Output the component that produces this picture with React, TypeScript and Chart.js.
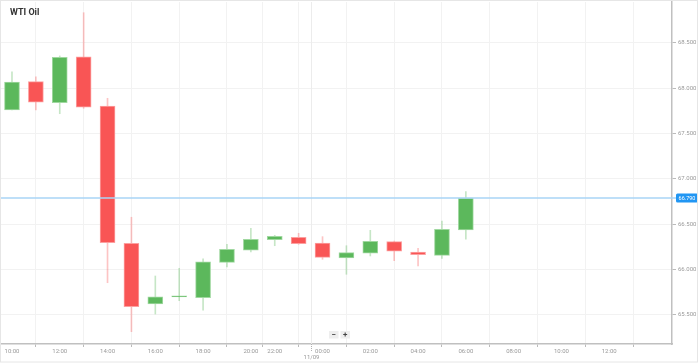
import { useEffect, useRef } from "react";
import { Chart, registerables } from "chart.js";

Chart.register(...registerables);

// ---- data ----
const candleSlots = [0, 1, 2, 3, 4, 5, 6, 7, 8, 9, 10, 11, 12, 13, 14, 15, 16, 17, 18, 19];
const candleTimes = ["10:00", "11:00", "12:00", "13:00", "14:00", "15:00", "16:00", "17:00", "18:00", "19:00", "20:00", "22:00", "23:00", "00:00", "01:00", "02:00", "03:00", "04:00", "05:00", "06:00"];
const opens = [67.761, 68.073, 67.842, 68.346, 67.805, 66.291, 65.621, 65.699, 65.691, 66.081, 66.214, 66.331, 66.357, 66.294, 66.129, 66.181, 66.309, 66.195, 66.158, 66.438];
const highs = [68.183, 68.128, 68.357, 68.834, 67.890, 66.578, 65.930, 66.015, 66.118, 66.280, 66.456, 66.379, 66.401, 66.364, 66.264, 66.434, 66.315, 66.236, 66.537, 66.860];
const lows = [67.761, 67.761, 67.720, 67.780, 65.856, 65.316, 65.511, 65.658, 65.552, 66.029, 66.195, 66.264, 66.280, 66.114, 65.949, 66.151, 66.099, 66.040, 66.125, 66.335];
const closes = [68.070, 67.846, 68.342, 67.791, 66.297, 65.592, 65.699, 65.710, 66.085, 66.225, 66.335, 66.368, 66.286, 66.136, 66.187, 66.313, 66.203, 66.165, 66.445, 66.790];

const tickSlots = [0, 2, 4, 6, 8, 10, 11, 13, 15, 17, 19, 21, 23, 25];
const tickLabels = ["10:00", "12:00", "14:00", "16:00", "18:00", "20:00", "22:00", "00:00", "02:00", "04:00", "06:00", "08:00", "10:00", "12:00"];
const yTickValues = [65.5, 66.0, 66.5, 67.0, 67.5, 68.0, 68.5];
const lastPrice = 66.79;
const lastPriceLabel = "66.790";
const dateSlot = 12.5;
const dateLabel = "11/09";
const title = "WTI Oil";

const GREEN = "rgb(92,184,92)";
const GREEN_EDGE = "rgb(160,216,160)";
const GREEN_WICK = "rgba(92,184,92,0.35)";
const RED = "rgb(249,85,85)";
const RED_EDGE = "rgb(252,160,160)";
const RED_WICK = "rgba(249,85,85,0.35)";

const overlay = {
  id: "overlay",
  beforeDatasetsDraw(chart: any) {
    const { ctx, chartArea, scales } = chart;
    const x = Math.round(scales.x.getPixelForValue(dateSlot)) + 0.5;
    ctx.save();
    ctx.strokeStyle = "#ececec";
    ctx.lineWidth = 1;
    ctx.beginPath();
    ctx.moveTo(x, chartArea.top);
    ctx.lineTo(x, chartArea.bottom);
    ctx.stroke();
    ctx.restore();
  },
  afterDatasetsDraw(chart: any) {
    const { ctx, chartArea, scales } = chart;
    const y = scales.y.getPixelForValue(lastPrice);
    ctx.save();
    // price line
    ctx.strokeStyle = "rgb(168,212,246)";
    ctx.lineWidth = 1.5;
    ctx.beginPath();
    ctx.moveTo(chartArea.left, y);
    ctx.lineTo(chartArea.right + 4, y);
    ctx.stroke();
    // price label
    ctx.fillStyle = "rgb(33,150,243)";
    const bx = chartArea.right + 4, bw = 22, bh = 9;
    ctx.beginPath();
    (ctx as any).roundRect ? (ctx as any).roundRect(bx, y - bh / 2, bw, bh, 1.5) : ctx.rect(bx, y - bh / 2, bw, bh);
    ctx.fill();
    ctx.fillStyle = "#ffffff";
    ctx.font = "5.5px Roboto";
    ctx.textAlign = "center";
    ctx.textBaseline = "middle";
    ctx.fillText(lastPriceLabel, bx + bw / 2, y + 0.5);

    // date separator below axis
    const dx = Math.round(scales.x.getPixelForValue(dateSlot)) + 0.5;
    ctx.strokeStyle = "#b0b0b0";
    ctx.lineWidth = 1;
    ctx.setLineDash([1, 1]);
    ctx.beginPath();
    ctx.moveTo(dx, chartArea.bottom);
    ctx.lineTo(dx, chartArea.bottom + 8);
    ctx.stroke();
    ctx.setLineDash([]);
    ctx.fillStyle = "#999";
    ctx.font = "6px Roboto";
    ctx.textAlign = "center";
    ctx.textBaseline = "middle";
    ctx.fillText(dateLabel, dx, chartArea.bottom + 13);

    // title
    ctx.fillStyle = "#333";
    ctx.font = "bold 9px Roboto";
    ctx.textAlign = "left";
    ctx.textBaseline = "middle";
    ctx.fillText(title, 10, 12.5);

    // zoom buttons
    const btns = ["\u2212", "+"];
    btns.forEach((b, i) => {
      const x0 = 329 + i * 11.5;
      ctx.fillStyle = "#eeeeee";
      ctx.fillRect(x0, 331, 9.5, 7.5);
      ctx.fillStyle = "#444";
      ctx.font = "bold 8px Roboto";
      ctx.textAlign = "center";
      ctx.fillText(b, x0 + 4.75, 334.8);
    });

    // outer border
    ctx.strokeStyle = "#e6e6e6";
    ctx.lineWidth = 1;
    ctx.strokeRect(0.5, 0.5, chart.width - 1, chart.height - 1.5);
    ctx.restore();
  },
};

export default function App() {
  const ref = useRef<HTMLCanvasElement | null>(null);

  useEffect(() => {
    if (!ref.current) return;
    Chart.defaults.font.family = "Roboto";
    const bodyColors = opens.map((o, i) => (closes[i] >= o ? GREEN : RED));
    const edgeColors = opens.map((o, i) => (closes[i] >= o ? GREEN_EDGE : RED_EDGE));
    const wickColors = opens.map((o, i) => (closes[i] >= o ? GREEN_WICK : RED_WICK));

    const chart = new Chart(ref.current, {
      type: "bar",
      data: {
        labels: candleTimes,
        datasets: [
          {
            label: "body",
            data: candleSlots.map((s, i) => ({ x: s, y: [opens[i], closes[i]] })) as any,
            backgroundColor: bodyColors,
            borderColor: edgeColors,
            borderWidth: 1,
            borderSkipped: false,
            barThickness: 15,
            grouped: false,
            order: 0,
          } as any,
          {
            label: "wick",
            data: candleSlots.map((s, i) => ({ x: s, y: [lows[i], highs[i]] })) as any,
            backgroundColor: wickColors,
            borderWidth: 0,
            barThickness: 1,
            grouped: false,
            order: 1,
          } as any,
        ],
      },
      options: {
        animation: false,
        responsive: false,
        maintainAspectRatio: false,
        layout: { padding: { top: 2, left: 1, right: 0, bottom: 0 } },
        plugins: {
          legend: { display: false },
          tooltip: { enabled: false },
          title: { display: false },
        },
        scales: {
          x: {
            type: "linear",
            position: "bottom",
            min: -0.46,
            max: 27.63,
            offset: false,
            afterBuildTicks: (scale: any) => {
              scale.ticks = tickSlots.map((v) => ({ value: v }));
            },
            afterFit: (scale: any) => {
              scale.height = 19;
              scale.paddingLeft = 0;
              scale.paddingRight = 0;
            },
            grid: {
              color: "#f2f2f2",
              tickColor: "#bbbbbb",
              tickLength: 3,
              drawTicks: true,
            },
            border: { color: "#c0c0c0", width: 1.5 },
            ticks: {
              autoSkip: false,
              maxRotation: 0,
              padding: 1,
              color: "#999",
              font: { size: 6 },
              callback: (v: any) => {
                const i = tickSlots.indexOf(Number(v));
                return i >= 0 ? tickLabels[i] : "";
              },
            },
          },
          y: {
            type: "linear",
            position: "right",
            min: 65.18,
            max: 68.952,
            afterBuildTicks: (scale: any) => {
              scale.ticks = yTickValues.map((v) => ({ value: v }));
            },
            afterFit: (scale: any) => {
              scale.width = 26;
              scale.paddingTop = 0;
              scale.paddingBottom = 0;
            },
            grid: {
              color: "#f2f2f2",
              tickColor: "#bbbbbb",
              tickLength: 4,
            },
            border: { color: "#c0c0c0", width: 1.5 },
            ticks: {
              padding: 2,
              color: "#999",
              font: { size: 6 },
              callback: (v: any) => Number(v).toFixed(3),
            },
          },
        },
      },
      plugins: [overlay],
    });
    return () => chart.destroy();
  }, []);

  return (
    <div style={{ position: "fixed", left: 0, top: 0, width: 698, height: 363, background: "#fff" }}>
      <canvas ref={ref} width={698} height={363} style={{ width: 698, height: 363, display: "block" }} />
    </div>
  );
}
